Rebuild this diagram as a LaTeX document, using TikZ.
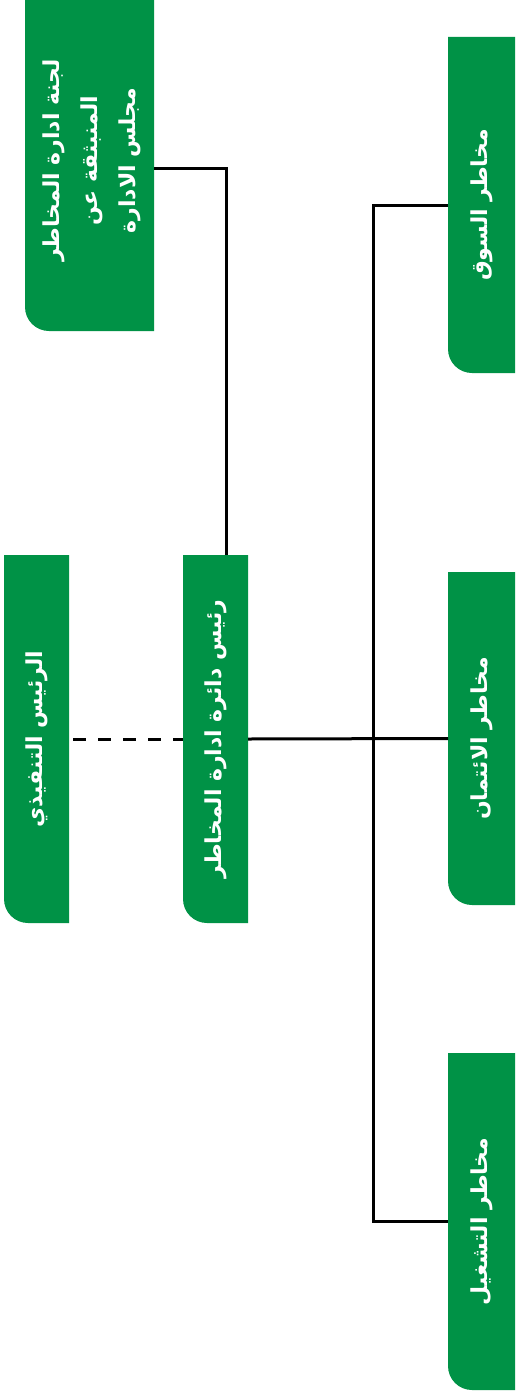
\documentclass[tikz,border=0pt]{standalone}
\usepackage{fontspec}
\usepackage{graphicx}
\newfontfamily\arabicfont[Script=Arabic]{DejaVu Sans}
\TeXXeTstate=1
\definecolor{boxgreen}{RGB}{0,146,70}
\tikzset{
  gbox/.style={inner sep=0pt, outer sep=0pt, text=white,
    font=\arabicfont\bfseries\fontsize{22}{38}\selectfont,
    path picture={\fill[boxgreen] (path picture bounding box.north east)
      -- (path picture bounding box.south east) [rounded corners=24pt]
      -- (path picture bounding box.south west) [sharp corners]
      -- (path picture bounding box.north west) -- cycle;}},
  conn/.style={draw=black, line width=3pt},
  dashconn/.style={conn, dash pattern=on 12.5pt off 12.5pt, dash phase=21pt}
}
\begin{document}
\begin{tikzpicture}[x=1pt, y=-1pt]
\useasboundingbox (0,0) rectangle (516,1397);
\fill[white] (0,0) rectangle (516,1397);
% boxes
\node[gbox, minimum width=129pt, minimum height=331pt] (b1) at (89.5,165.5)
  {\rotatebox{90}{\hspace*{10pt}\begin{tabular}{@{}c@{}}\beginR لجنة ادارة المخاطر\endR\\ \beginR المنبثقة عن\endR\\ \beginR مجلس الادارة\endR\end{tabular}}};
\node[gbox, minimum width=67pt, minimum height=336pt] (b2) at (481.5,205)
  {\rotatebox{90}{\beginR مخاطر السوق\endR}};
\node[gbox, minimum width=67pt, minimum height=333pt] (b5) at (481.5,738.5)
  {\rotatebox{90}{\beginR مخاطر الائتمان\endR}};
\node[gbox, minimum width=67pt, minimum height=337pt] (b6) at (481.5,1221.5)
  {\rotatebox{90}{\beginR مخاطر التشغيل\endR}};
\node[gbox, minimum width=65pt, minimum height=368pt] (b3) at (36.5,739)
  {\rotatebox{90}{\beginR الرئيس التنفيذي\endR}};
\node[gbox, minimum width=65pt, minimum height=368pt] (b4) at (215.5,739)
  {\rotatebox{90}{\beginR رئيس دائرة ادارة المخاطر\endR}};
% connectors
\coordinate (sp) at (373,1221.5);
\draw[conn] ([yshift=-2.5pt]b1.east) -| ([xshift=10.5pt]b4.north);
\draw[dashconn] (b3.east) -- (b4.west);
\draw[conn] (b4.east) -- (b5.west);
\draw[conn] (b2.west) -| (sp) -- (b6.west);
\end{tikzpicture}
\end{document}
